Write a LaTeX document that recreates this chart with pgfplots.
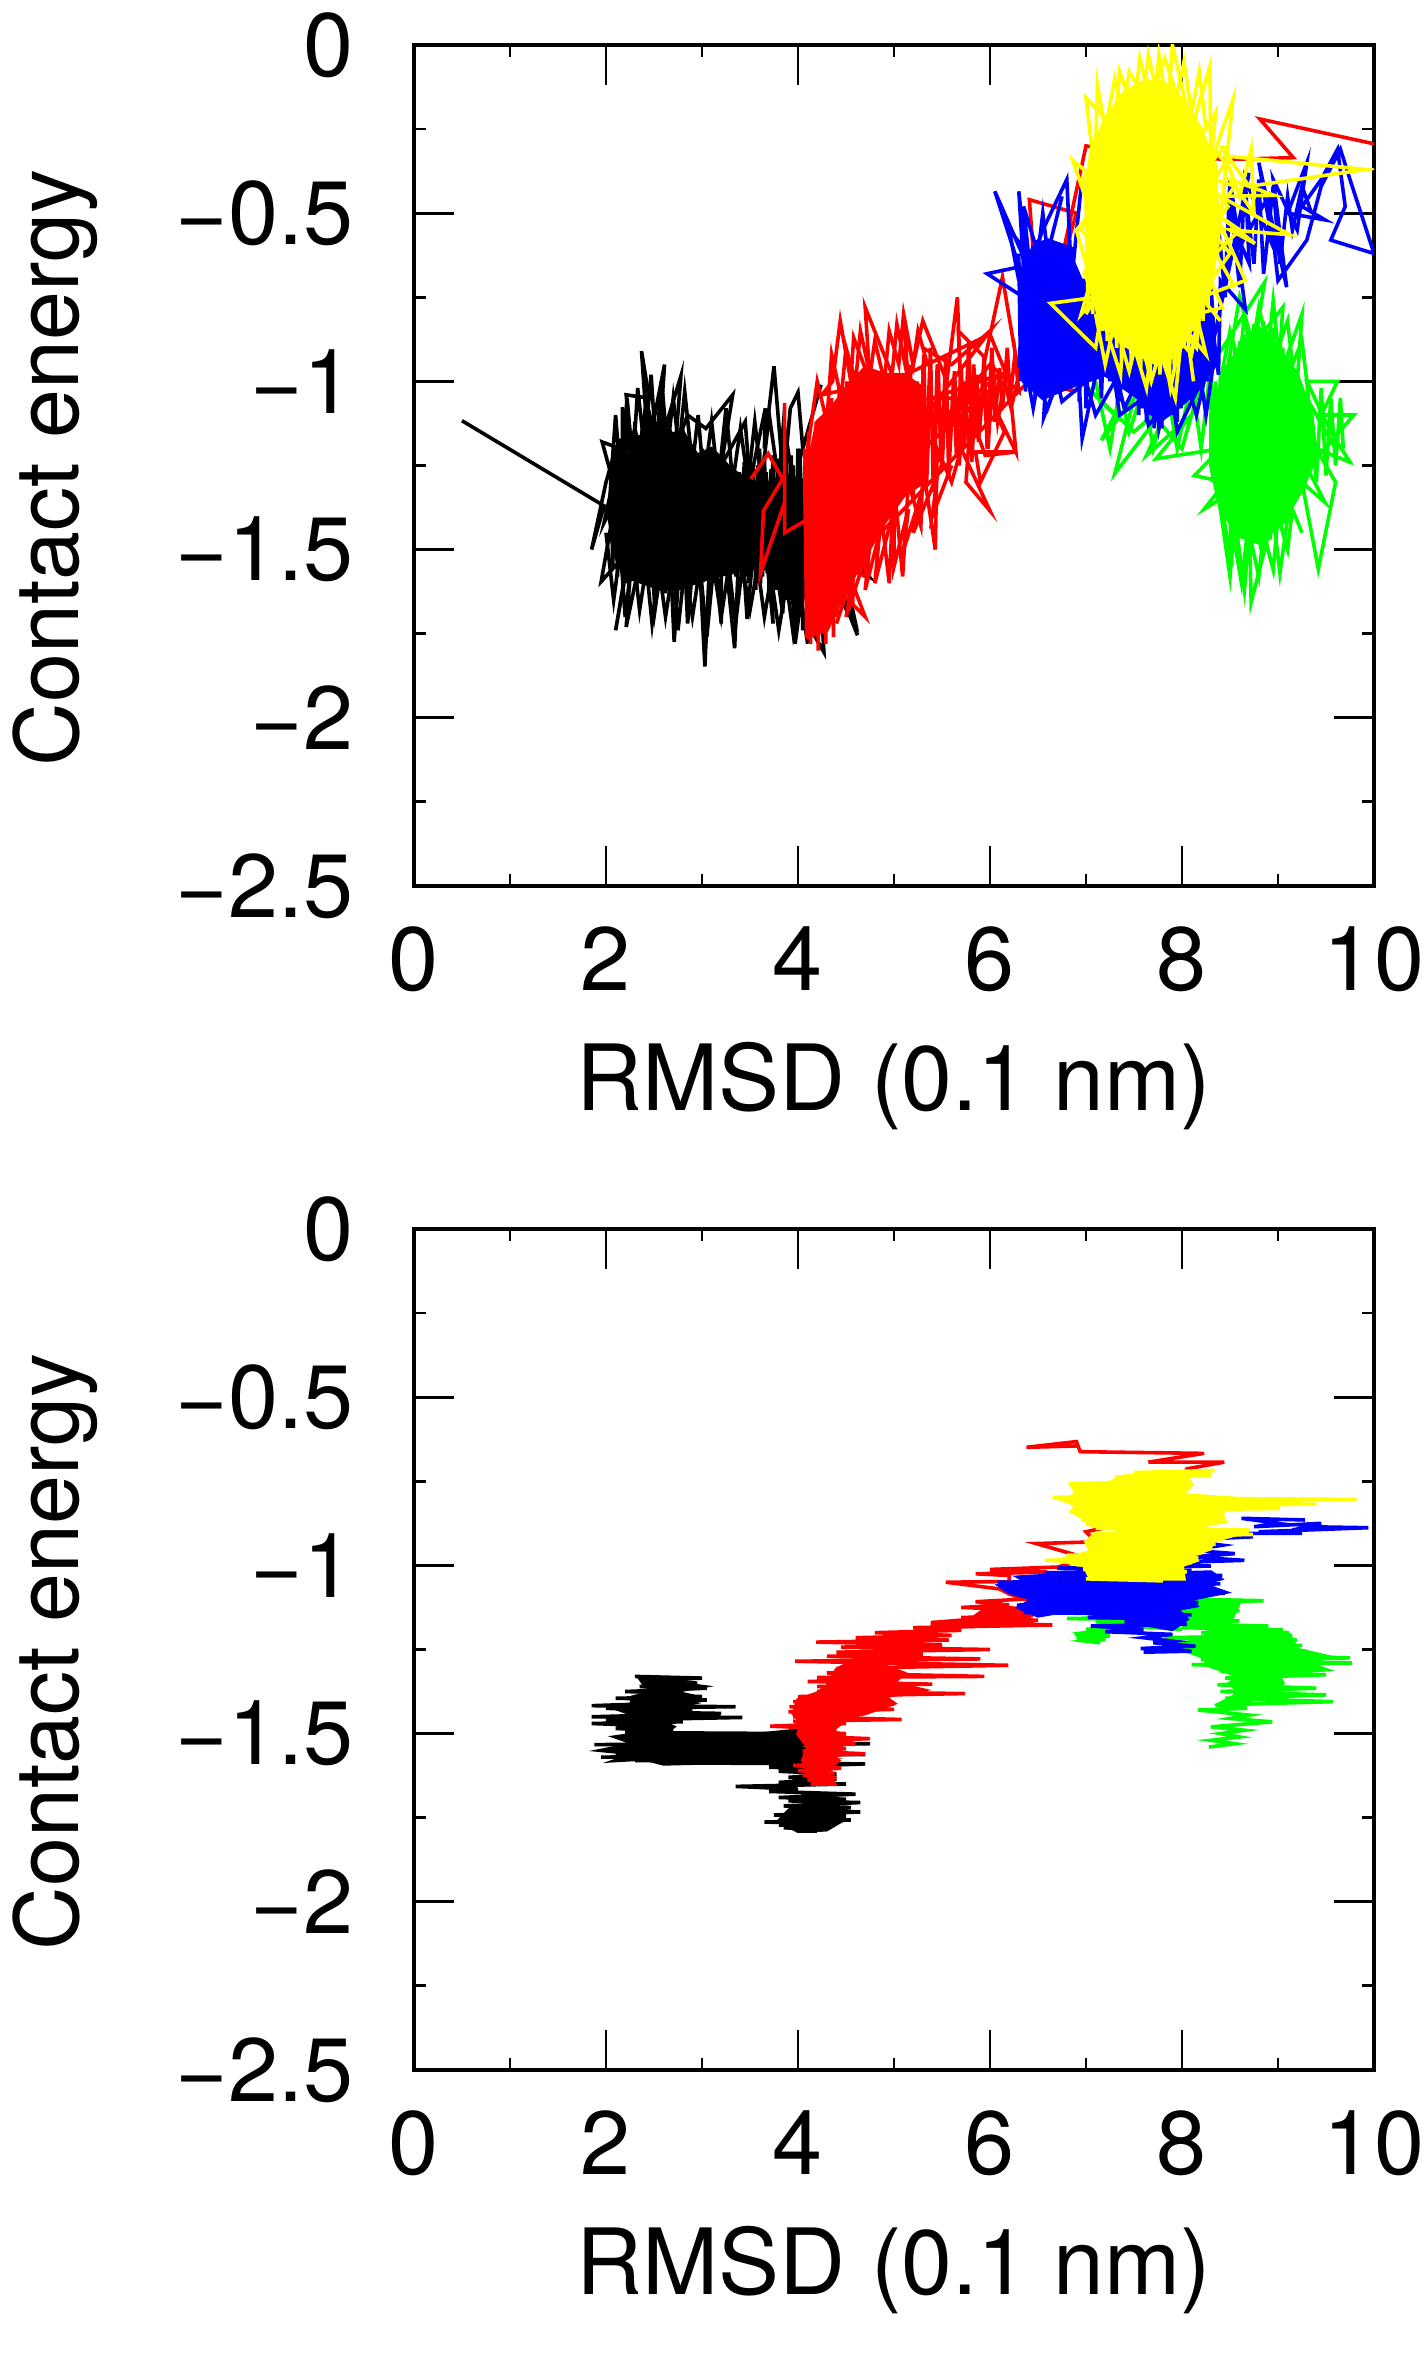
\documentclass[border=0pt]{standalone}
\usepackage{fontspec}
\setmainfont{TeX Gyre Heros}
\usepackage{pgfplots}
\pgfplotsset{compat=1.18}
\definecolor{gred}{rgb}{1,0,0}
\definecolor{ggreen}{rgb}{0,1,0}
\definecolor{gblue}{rgb}{0,0,1}
\definecolor{gyellow}{rgb}{1,1,0}
\pgfplotsset{
  rmsdpanel/.style={
    scale only axis, width=480pt, height=420.5pt,
    xmin=0, xmax=10, ymin=-2.5, ymax=0,
    xtick={0,2,4,6,8,10}, minor x tick num=1,
    ytick={-2.5,-2,-1.5,-1,-0.5,0}, minor y tick num=1,
    yticklabels={−2.5,−2,−1.5,−1,−0.5,0},
    xticklabels={0,2,4,6,8,10},
    tick align=inside, ticks=both,
    major tick length=20pt, minor tick length=6pt,
    axis line style={line width=1.6pt},
    every tick/.style={line width=1.4pt,black},
    tick label style={font=\fontsize{45}{50}\selectfont, inner sep=0pt},
    xtick pos=both, ytick pos=both,
    xticklabel pos=bottom, yticklabel pos=left,
    x tick label style={yshift=-20pt},
    y tick label style={xshift=-30pt},
    xlabel={RMSD (0.1 nm)},
    ylabel={Contact energy},
    xlabel style={font=\fontsize{45.7}{50}\selectfont, inner sep=0pt, at={(axis description cs:0.5,-0.238)},anchor=center},
    ylabel style={font=\fontsize{44}{50}\selectfont, inner sep=0pt, at={(axis description cs:-0.374,0.497)},anchor=center},
    every axis plot/.append style={line width=1.8pt, mark=none},
  },
}
\begin{document}
\begin{tikzpicture}[x=1pt,y=1pt]
\useasboundingbox (0,0) rectangle (712.5,1183);
% upper panel
\begin{axis}[rmsdpanel, at={(207pt,740pt)}, anchor=south west]
\addplot[black,fill=black] coordinates {(2.05,-1.3)(2.15,-1.2)(2.2,-1.26)(2.3,-1.14)(2.35,-1.2)(2.42,-1.06)(2.5,-1.15)(2.6,-1.1)(2.7,-1.17)(2.8,-1.15)(2.95,-1.22)(3.1,-1.2)(3.3,-1.26)(3.5,-1.3)(3.7,-1.3)(3.9,-1.28)(4.1,-1.3)(4.15,-1.66)(3.9,-1.6)(3.7,-1.56)(3.5,-1.54)(3.3,-1.57)(3.1,-1.58)(2.95,-1.6)(2.8,-1.6)(2.6,-1.62)(2.4,-1.6)(2.2,-1.58)(2.1,-1.52)(2.03,-1.4)} --cycle;
\addplot[black] coordinates {(0.5,-1.117)(1.98,-1.37)(1.85,-1.50)(2.0,-1.30)
(2.05,-1.25)(2.07,-1.55)(2.10,-1.2)(2.12,-1.58)(2.15,-1.17)(2.17,-1.56)(2.20,-1.14)(2.22,-1.6)(2.25,-1.19)(2.27,-1.57)(2.30,-1.12)(2.32,-1.62)(2.35,-1.16)(2.37,-1.59)(2.40,-1.1)(2.42,-1.58)(2.45,-1.13)(2.47,-1.61)(2.50,-1.08)(2.52,-1.6)(2.55,-1.12)(2.57,-1.58)(2.60,-1.09)(2.62,-1.63)(2.65,-1.14)(2.67,-1.6)(2.70,-1.15)(2.72,-1.57)(2.75,-1.17)(2.77,-1.62)(2.80,-1.14)(2.82,-1.58)(2.85,-1.2)(2.87,-1.6)(2.90,-1.19)(2.92,-1.56)(2.95,-1.22)(2.97,-1.59)(3.00,-1.2)(3.02,-1.57)(3.05,-1.24)(3.07,-1.55)(3.10,-1.22)(3.12,-1.58)(3.15,-1.26)(3.17,-1.54)(3.20,-1.25)(3.22,-1.56)(3.25,-1.28)(3.27,-1.53)
(3.30,-1.27)(3.33,-1.57)(3.37,-1.3)(3.40,-1.55)(3.44,-1.24)(3.47,-1.58)(3.51,-1.28)(3.54,-1.56)(3.58,-1.25)(3.61,-1.6)(3.65,-1.22)(3.68,-1.57)(3.72,-1.26)(3.75,-1.6)(3.79,-1.23)(3.82,-1.62)(3.86,-1.2)(3.89,-1.65)(3.93,-1.22)(3.96,-1.68)(4.0,-1.2)(4.03,-1.7)(4.07,-1.25)(4.1,-1.72)
(4.27,-1.805)(4.2,-1.45)(4.62,-1.755)(4.3,-1.5)(4.74,-1.58)(4.4,-1.45)(4.6,-1.72)(4.1,-1.5)(3.97,-1.78)(3.9,-1.4)(3.84,-1.69)(3.7,-1.4)(3.74,-1.72)(3.6,-1.3)(3.47,-1.706)(3.4,-1.4)(3.34,-1.793)(3.2,-1.4)(3.2,-1.72)(3.1,-1.4)(3.03,-1.848)(2.95,-1.4)(2.85,-1.72)(2.8,-1.4)(2.71,-1.774)(2.65,-1.4)(2.51,-1.68)(2.45,-1.4)(2.21,-1.73)(2.3,-1.4)(2.1,-1.74)(2.25,-1.5)(1.95,-1.595)(2.1,-1.35)(1.98,-1.42)(2.15,-1.2)(1.96,-1.18)(2.17,-1.4)(2.17,-1.077)(2.3,-1.3)(2.21,-1.04)(2.45,-1.05)(2.37,-0.91)(2.44,-1.2)(2.61,-.95)(2.55,-1.2)(2.78,-.984)(2.72,-1.2)(2.85,-1.1)(3.04,-1.14)(3.32,-1.04)(3.2,-1.25)(3.45,-1.12)(3.5,-1.3)(3.66,-1.08)(3.65,-1.2)(3.75,-.955)(3.85,-1.3)(3.92,-1.08)(4.0,-1.033)(4.05,-1.2)(4.24,-1.01)};
\addplot[black] coordinates {(3.32,-1.25)(3.35,-1.58)(3.39,-1.27)(3.42,-1.6)(3.46,-1.22)(3.49,-1.6)(3.53,-1.25)(3.56,-1.62)(3.6,-1.2)(3.63,-1.58)(3.67,-1.27)(3.7,-1.64)(3.74,-1.22)(3.77,-1.62)(3.81,-1.25)(3.84,-1.66)(3.88,-1.22)(3.91,-1.65)(3.95,-1.25)(3.98,-1.72)(4.02,-1.2)(4.05,-1.74)};
\addplot[black] coordinates {(2.05,-1.3)(2.1,-1.1)(2.15,-1.28)(2.22,-1.05)(2.28,-1.25)(2.33,-1.02)(2.4,-1.2)(2.47,-0.98)(2.52,-1.2)(2.58,-1.0)(2.64,-1.2)(2.7,-1.05)(2.76,-1.2)(2.82,-1.03)(2.9,-1.25)(2.96,-1.1)(3.02,-1.3)(3.1,-1.12)(3.17,-1.3)(3.25,-1.08)(3.32,-1.3)(3.4,-1.14)(3.48,-1.3)(3.55,-1.12)(3.62,-1.3)(3.7,-1.1)(3.8,-1.3)(3.85,-1.12)(3.95,-1.3)};
\addplot[black] coordinates {(2.0,-1.45)(2.08,-1.65)(2.15,-1.5)(2.2,-1.7)(2.28,-1.5)(2.35,-1.68)(2.42,-1.55)(2.48,-1.72)(2.55,-1.55)(2.62,-1.7)(2.7,-1.55)(2.75,-1.74)(2.82,-1.55)(2.9,-1.7)(2.98,-1.55)(3.05,-1.76)(3.12,-1.55)(3.2,-1.7)(3.28,-1.55)(3.35,-1.72)(3.42,-1.55)(3.5,-1.68)(3.58,-1.55)(3.65,-1.7)(3.72,-1.58)(3.8,-1.74)(3.88,-1.6)(3.95,-1.75)(4.02,-1.62)(4.1,-1.78)};
\addplot[gred,fill=gred] coordinates {(4.07,-1.3)(4.2,-1.12)(4.35,-1.08)(4.5,-1.02)(4.7,-0.96)(4.9,-0.98)(5.1,-0.98)(5.3,-1.02)(5.3,-1.3)(5.1,-1.34)(4.9,-1.42)(4.7,-1.52)(4.5,-1.62)(4.3,-1.74)(4.1,-1.76)} --cycle;
\addplot[gred] coordinates {(3.51,-1.29)(3.69,-1.215)(3.84,-1.29)(3.64,-1.385)(3.61,-1.57)(3.86,-1.36)(3.86,-1.064)(3.86,-1.45)(4.1,-1.41)
(4.07,-1.2)(4.09,-1.76)(4.11,-1.15)(4.13,-1.78)(4.15,-1.2)(4.17,-1.74)(4.19,-1.12)(4.21,-1.8)(4.23,-1.15)(4.25,-1.75)(4.27,-1.1)(4.29,-1.78)(4.31,-1.12)(4.33,-1.72)(4.35,-1.05)(4.37,-1.76)(4.39,-1.08)(4.41,-1.7)(4.43,-1.02)(4.45,-1.62)(4.47,-1.05)(4.49,-1.65)(4.51,-1.0)(4.53,-1.6)(4.55,-1.04)(4.57,-1.66)(4.59,-0.98)(4.61,-1.55)(4.63,-1.03)(4.65,-1.5)(4.67,-0.97)(4.69,-1.52)(4.71,-1.02)(4.73,-1.45)(4.75,-0.99)(4.77,-1.42)(4.79,-1.03)(4.81,-1.46)(4.83,-1.0)(4.85,-1.38)(4.87,-1.05)(4.89,-1.4)(4.91,-1.0)(4.93,-1.36)(4.95,-1.04)(4.97,-1.38)(4.99,-1.0)(5.01,-1.34)(5.03,-1.05)(5.05,-1.36)(5.07,-0.98)(5.09,-1.32)(5.11,-1.03)(5.13,-1.3)
(5.17,-0.95)(5.2,-1.34)(5.24,-1.0)(5.27,-1.28)(5.31,-0.92)(5.34,-1.3)(5.38,-1.0)(5.42,-1.24)(5.45,-0.95)(5.5,-1.26)(5.54,-1.02)(5.58,-1.2)(5.63,-0.97)(5.68,-1.25)(5.73,-1.0)(5.78,-1.2)(5.83,-0.95)(5.88,-1.18)(5.93,-1.0)(5.98,-1.2)(6.03,-0.95)(6.08,-1.12)(6.15,-1.0)(6.22,-1.08)(6.3,-0.98)
(6.13,-0.69)(5.95,-0.93)(5.67,-0.85)(5.7,-1.05)(5.66,-0.75)(5.55,-1.0)(5.3,-0.82)(5.2,-0.95)(5.1,-0.82)(5.15,-1.0)(5.03,-0.83)(4.98,-0.98)(4.7,-0.78)(4.75,-1.0)(4.58,-0.87)(4.55,-1.0)(4.44,-0.82)(4.36,-1.0)(4.25,-1.04)(5.05,-0.99)(6.0,-0.86)(6.2,-1.0)(6.27,-1.21)(6.0,-1.05)(6.15,-1.15)(5.9,-1.3)(5.85,-1.21)(6.27,-1.21)(5.95,-1.22)(5.8,-1.1)(5.75,-1.3)(6.0,-1.385)(5.7,-1.2)(5.6,-1.3)(5.45,-1.2)(5.43,-1.5)(5.3,-1.25)(5.28,-1.43)(5.15,-1.3)(5.09,-1.58)(5.0,-1.3)(4.95,-1.6)(4.85,-1.35)(4.88,-1.45)(4.75,-1.35)(4.7,-1.58)(4.5,-1.55)(4.7,-1.7)(4.35,-1.6)
(6.4,-1.0)(6.9,-1.03)(6.55,-1.0)(6.41,-0.46)(6.9,-0.50)(6.7,-0.7)(7.0,-0.30)(7.6,-0.33)(8.49,-0.34)(9.16,-0.335)(8.81,-0.22)(10.1,-0.30)};
\addplot[gred] coordinates {(5.3,-0.95)(5.33,-1.28)(5.38,-0.9)(5.41,-1.33)(5.46,-0.95)(5.49,-1.24)(5.54,-0.92)(5.57,-1.28)(5.62,-1.0)(5.65,-1.22)(5.7,-0.95)(5.73,-1.2)(5.78,-0.88)(5.81,-1.24)(5.86,-0.98)(5.89,-1.15)(5.94,-0.92)(5.97,-1.2)(6.02,-0.9)(6.05,-1.12)(6.1,-0.96)(6.13,-1.08)(6.18,-0.9)(6.21,-1.05)(6.26,-0.92)(6.3,-1.03)(6.0,-0.95)(5.5,-1.12)(6.1,-0.98)(5.4,-1.05)(5.9,-1.05)(5.3,-1.2)(6.05,-1.02)(5.2,-1.15)(6.0,-0.85)(5.6,-0.95)(5.3,-0.9)};
\addplot[gred] coordinates {(4.4,-1.72)(4.6,-1.55)(4.5,-1.7)(4.75,-1.48)(4.7,-1.62)(4.85,-1.45)(4.8,-1.6)(5.0,-1.38)(5.0,-1.55)(5.15,-1.38)(5.1,-1.5)(5.3,-1.32)(5.2,-1.45)(5.45,-1.28)(5.4,-1.4)(5.6,-1.25)};
\addplot[gred] coordinates {(4.1,-1.2)(4.2,-1.0)(4.3,-1.12)(4.35,-0.92)(4.45,-1.05)(4.5,-0.9)(4.6,-1.0)(4.65,-0.85)(4.75,-0.98)(4.8,-0.88)(4.9,-1.0)(4.95,-0.85)(5.05,-0.95)(5.1,-0.8)(5.2,-0.95)(5.25,-0.85)(5.35,-0.95)};
\addplot[ggreen,fill=ggreen] coordinates {(8.3,-1.1)(8.45,-0.97)(8.6,-0.9)(8.8,-0.84)(9.0,-0.9)(9.2,-0.98)(9.35,-1.1)(9.4,-1.22)(9.25,-1.32)(9.05,-1.42)(8.8,-1.48)(8.6,-1.46)(8.4,-1.38)(8.3,-1.25)} --cycle;
\addplot[ggreen] coordinates {(8.3,-1.05)(8.32,-1.3)(8.35,-1.0)(8.37,-1.33)(8.40,-0.98)(8.42,-1.38)(8.45,-0.95)(8.47,-1.4)(8.50,-0.92)(8.52,-1.42)(8.55,-0.9)(8.57,-1.44)(8.60,-0.88)(8.62,-1.46)(8.65,-0.86)(8.67,-1.47)(8.70,-0.85)(8.72,-1.5)(8.75,-0.83)(8.77,-1.48)(8.80,-0.85)(8.82,-1.5)(8.85,-0.82)(8.87,-1.46)(8.90,-0.85)(8.92,-1.47)(8.95,-0.84)(8.97,-1.44)(9.00,-0.88)(9.02,-1.42)(9.05,-0.9)(9.07,-1.4)(9.10,-0.92)(9.12,-1.36)(9.15,-0.94)(9.17,-1.33)(9.20,-0.98)(9.22,-1.3)(9.25,-1.02)(9.27,-1.28)(9.30,-1.05)(9.32,-1.26)(9.35,-1.1)(9.37,-1.24)
(9.79,-1.10)(9.45,-1.1)(9.62,-1.0)(9.3,-1.0)(9.55,-1.15)(9.75,-1.24)(9.4,-1.2)(9.6,-1.3)(9.42,-1.558)(9.25,-1.3)(9.49,-1.36)(9.2,-1.2)(9.02,-1.57)(8.95,-1.4)(8.72,-1.657)(8.7,-1.4)(8.62,-1.6)(8.5,-1.4)(8.52,-1.55)(8.4,-1.35)(8.23,-1.38)(8.45,-1.3)(8.13,-1.28)(8.4,-1.2)(7.73,-1.23)(8.1,-1.1)(7.63,-1.22)(7.9,-1.05)(7.3,-1.274)(7.5,-1.05)(7.16,-1.175)(7.3,-1.1)(7.0,-1.015)(7.5,-1.15)(7.7,-1.1)(8.0,-1.2)(8.2,-1.0)(8.86,-0.706)(8.75,-0.9)(8.6,-0.75)(8.45,-1.0)(9.05,-0.78)(9.0,-1.0)(9.25,-0.8)(9.2,-1.0)(9.6,-1.2)};
\addplot[ggreen] coordinates {(7.1,-1.0)(7.25,-1.2)(7.35,-1.02)(7.45,-1.15)(7.6,-1.02)(7.7,-1.2)(7.85,-1.03)(7.95,-1.2)(8.1,-1.0)(8.2,-1.2)(8.3,-0.95)(8.35,-1.3)};
\addplot[ggreen] coordinates {(9.3,-1.0)(9.4,-1.3)(9.45,-1.02)(9.5,-1.28)(9.55,-1.05)(9.6,-1.25)(9.65,-1.05)(9.68,-1.2)};
\addplot[ggreen] coordinates {(8.4,-1.38)(8.5,-1.58)(8.55,-1.4)(8.65,-1.62)(8.7,-1.45)(8.8,-1.58)(8.85,-1.45)(8.95,-1.56)(9.0,-1.4)(9.1,-1.5)(9.15,-1.38)(9.25,-1.45)};
\addplot[ggreen] coordinates {(8.4,-1.0)(8.5,-0.85)(8.6,-0.95)(8.65,-0.8)(8.72,-0.92)(8.8,-0.78)(8.9,-0.9)(8.95,-0.76)(9.0,-0.9)(9.1,-0.82)(9.15,-0.95)(9.25,-0.88)(9.3,-1.0)};
\addplot[gblue,fill=gblue] coordinates {(6.32,-0.7)(6.45,-0.6)(6.6,-0.58)(6.8,-0.6)(6.95,-0.7)(7.0,-1.0)(6.8,-1.02)(6.55,-1.05)(6.35,-1.0)} --cycle;
\addplot[gblue,fill=gblue] coordinates {(6.95,-0.7)(8.3,-0.7)(8.35,-0.95)(8.15,-1.03)(7.95,-1.08)(7.76,-1.12)(7.55,-1.05)(7.2,-0.98)(7.0,-1.0)} --cycle;
\addplot[gblue] coordinates {(6.3,-0.62)(6.32,-1.0)(6.35,-0.6)(6.37,-1.03)(6.40,-0.62)(6.42,-1.0)(6.45,-0.65)(6.47,-1.05)(6.50,-0.58)(6.52,-1.02)(6.55,-0.62)(6.57,-1.04)(6.60,-0.6)(6.62,-1.0)(6.65,-0.63)(6.67,-1.03)(6.70,-0.6)(6.72,-1.02)(6.75,-0.6)(6.77,-1.0)(6.80,-0.65)(6.82,-1.02)(6.85,-0.6)(6.87,-1.0)(6.90,-0.7)(6.93,-1.06)(6.98,-0.7)(7.0,-1.08)(7.05,-0.72)(7.08,-1.0)(7.12,-0.7)(7.16,-1.05)(7.2,-0.75)(7.25,-1.0)(7.3,-0.75)(7.35,-1.06)(7.42,-0.8)(7.47,-1.03)(7.52,-0.8)(7.55,-1.1)(7.57,-0.7)(7.59,-1.08)(7.61,-0.7)(7.63,-1.12)(7.65,-0.7)(7.67,-1.1)(7.69,-0.7)(7.71,-1.14)(7.73,-0.7)(7.75,-1.12)(7.77,-0.7)(7.79,-1.14)(7.81,-0.7)(7.83,-1.1)(7.85,-0.7)(7.87,-1.08)(7.89,-0.7)(7.91,-1.1)(7.93,-0.7)(7.95,-1.12)(7.97,-0.7)(7.99,-1.08)(8.01,-0.7)(8.03,-1.06)(8.05,-0.75)(8.07,-1.04)(8.09,-0.7)(8.12,-1.02)(8.15,-0.7)(8.18,-1.0)(8.22,-0.65)(8.26,-1.0)(8.3,-0.8)(8.38,-0.98)(8.4,-0.7)
(8.66,-.786)(8.55,-0.55)(8.7,-0.65)(8.66,-.4)(8.95,-0.6)(8.8,-0.35)(9.09,-.72)(8.95,-0.4)(9.2,-0.55)(9.3,-.35)(9.1,-0.5)(9.49,-.52)(9.25,-0.48)(9.45,-0.4)(9.62,-.31)(9.7,-0.48)(9.55,-0.58)(10.0,-.62)(9.75,-.4)(9.65,-.31)(9.45,-.42)(9.3,-.58)(9.0,-0.7)(8.9,-0.45)(8.6,-0.6)(8.5,-0.4)(8.45,-0.72)(8.7,-0.38)(8.35,-0.85)
(8.15,-1.1)(7.95,-0.9)(7.76,-1.14)(7.7,-0.9)(7.4,-1.08)(7.2,-0.85)(6.96,-1.17)(6.9,-0.85)(6.56,-1.107)(6.6,-0.9)(6.3,-0.95)(6.35,-0.75)(5.97,-0.68)(6.3,-0.66)(6.38,-0.8)(6.3,-0.435)(6.38,-0.65)(6.05,-0.435)(6.35,-0.7)(6.55,-0.55)(6.8,-0.4)(6.85,-0.7)(6.95,-0.42)};
\addplot[gblue] coordinates {(8.35,-0.45)(8.45,-0.75)(8.5,-0.45)(8.6,-0.72)(8.65,-0.42)(8.75,-0.65)(8.8,-0.4)(8.85,-0.68)(8.95,-0.42)(9.02,-0.65)(9.1,-0.45)(9.15,-0.55)(9.25,-0.42)(9.35,-0.5)};
\addplot[gblue] coordinates {(6.3,-0.7)(6.2,-0.55)(6.4,-0.62)(6.35,-0.48)(6.5,-0.62)(6.55,-0.5)(6.6,-0.62)(6.75,-0.45)};
\addplot[gblue] coordinates {(6.4,-1.0)(6.45,-1.08)(6.5,-1.0)(6.6,-1.08)(6.7,-1.0)(6.75,-1.06)(7.0,-1.0)(7.1,-1.1)(7.3,-1.0)(7.35,-1.1)(7.6,-1.05)(7.65,-1.13)(7.9,-1.05)(7.95,-1.15)(8.2,-1.0)(8.25,-1.1)(8.35,-0.9)};
\addplot[gyellow,fill=gyellow] coordinates {(7.0,-0.45)(7.05,-0.32)(7.2,-0.22)(7.4,-0.14)(7.6,-0.11)(7.8,-0.11)(8.0,-0.16)(8.2,-0.25)(8.33,-0.35)(8.38,-0.55)(8.3,-0.72)(8.15,-0.82)(7.95,-0.92)(7.75,-0.95)(7.55,-0.92)(7.35,-0.88)(7.15,-0.82)(7.02,-0.7)} --cycle;
\addplot[gyellow] coordinates {(7.0,-0.4)(7.02,-0.78)(7.05,-0.35)(7.07,-0.8)(7.10,-0.3)(7.12,-0.83)(7.15,-0.25)(7.17,-0.85)(7.20,-0.22)(7.22,-0.88)(7.25,-0.2)(7.27,-0.86)(7.30,-0.18)(7.32,-0.9)(7.35,-0.16)(7.37,-0.93)(7.40,-0.15)(7.42,-0.9)(7.45,-0.13)(7.47,-0.95)(7.50,-0.14)(7.52,-0.92)(7.55,-0.12)(7.57,-0.96)(7.60,-0.12)(7.62,-0.94)(7.65,-0.1)(7.67,-0.98)(7.70,-0.12)(7.72,-0.95)(7.75,-0.11)(7.77,-0.98)(7.80,-0.1)(7.82,-0.96)(7.85,-0.12)(7.87,-1.0)(7.90,-0.13)(7.92,-0.96)(7.95,-0.14)(7.97,-0.93)(8.00,-0.18)(8.02,-0.9)(8.05,-0.2)(8.07,-0.88)(8.10,-0.22)(8.12,-0.85)(8.15,-0.25)(8.17,-0.8)(8.20,-0.26)(8.22,-0.82)(8.25,-0.3)(8.27,-0.78)(8.30,-0.33)(8.32,-0.7)(8.35,-0.35)(8.37,-0.6)
(8.53,-.163)(8.3,-0.35)(8.29,-.064)(8.1,-0.25)(7.9,0)(7.85,-0.2)(7.76,-0.03)(7.7,-0.2)(7.56,-.04)(7.5,-0.2)(7.35,-0.08)(7.3,-0.25)(7.0,-.157)(7.1,-0.4)(6.86,-.342)(7.05,-0.5)(6.9,-0.55)(7.05,-0.7)(6.95,-0.8)(7.1,-0.75)(6.63,-.768)(7.1,-0.9)(7.16,-0.8)(7.36,-.98)(7.4,-0.8)(7.63,-1.02)(7.7,-0.85)(7.93,-1.05)(8.0,-0.85)(8.15,-0.9)(8.2,-0.75)(8.66,-.70)(8.35,-0.5)(8.76,-.59)(8.5,-0.55)(9.12,-.564)(8.4,-0.45)(8.96,-.447)(8.5,-0.4)(8.75,-0.5)(8.72,-.31)(8.6,-0.45)(8.45,-0.33)(9.92,-.37)(8.7,-0.42)(8.4,-0.3)};
\addplot[gyellow] coordinates {(7.1,-0.3)(7.12,-0.12)(7.2,-0.25)(7.3,-0.1)(7.38,-0.2)(7.45,-0.08)(7.6,-0.15)(7.65,-0.03)(7.72,-0.12)(7.82,-0.04)(7.95,-0.15)(8.02,-0.05)(8.1,-0.2)(8.18,-0.08)(8.25,-0.25)(8.35,-0.2)(8.3,-0.35)(8.45,-0.3)};
\addplot[gyellow] coordinates {(7.1,-0.8)(7.2,-0.95)(7.3,-0.82)(7.45,-0.97)(7.55,-0.85)(7.68,-1.0)(7.8,-0.88)(7.88,-1.02)(7.98,-0.88)(8.1,-0.92)(8.2,-0.75)(8.4,-0.82)};
\addplot[gyellow] coordinates {(8.35,-0.4)(8.55,-0.42)(8.35,-0.5)(8.6,-0.55)(8.35,-0.62)(8.55,-0.72)};
\addplot[gyellow] coordinates {(7.1,-0.35)(6.95,-0.4)(7.1,-0.45)(6.95,-0.55)(7.1,-0.6)(6.98,-0.68)(7.1,-0.75)(7.0,-0.8)};
\addplot[gyellow] coordinates {(8.3,-0.3)(8.45,-0.35)(8.3,-0.42)(8.48,-0.48)(8.3,-0.55)(8.5,-0.62)(8.3,-0.7)(8.42,-0.78)(8.15,-0.8)(8.25,-0.92)(8.05,-0.85)(8.12,-1.0)};
\end{axis}
% lower panel
\begin{axis}[rmsdpanel, at={(207pt,148pt)}, anchor=south west]
\addplot[black,fill=black] coordinates {(2.35,-1.335)(2.9,-1.335)(2.6,-1.345)(3.0,-1.36)(2.7,-1.375)(2.85,-1.385)(2.65,-1.4)(2.9,-1.41)(2.6,-1.43)(2.8,-1.44)(2.55,-1.46)(2.7,-1.48)(2.6,-1.5)(3.0,-1.52)(4.0,-1.49)(4.05,-1.58)(2.6,-1.59)(2.4,-1.575)(2.1,-1.58)(2.3,-1.56)(1.95,-1.55)(2.3,-1.53)(2.1,-1.51)(2.35,-1.5)(2.2,-1.47)(2.35,-1.45)(2.15,-1.43)(2.4,-1.41)(2.3,-1.39)(2.5,-1.375)(2.4,-1.355)} --cycle;
\addplot[black,fill=black] coordinates {(3.9,-1.73)(4.5,-1.72)(4.45,-1.76)(4.3,-1.785)(4.0,-1.79)(3.8,-1.76)} --cycle;
\addplot[black] coordinates {(2.3,-1.33)(3.0,-1.335)(2.4,-1.342)(2.95,-1.35)(2.35,-1.36)(3.05,-1.365)(2.2,-1.375)(2.8,-1.38)(2.5,-1.385)(3.0,-1.39)(2.1,-1.395)(3.05,-1.40)(2.25,-1.407)(2.6,-1.41)(1.85,-1.417)(3.35,-1.42)(2.0,-1.425)(2.9,-1.43)(2.2,-1.435)(3.2,-1.44)(1.85,-1.45)(3.42,-1.452)(2.0,-1.46)(2.8,-1.465)(1.85,-1.47)(2.6,-1.478)(2.1,-1.485)(2.7,-1.49)(2.2,-1.497)(4.0,-1.5)(2.5,-1.507)(4.0,-1.512)(2.2,-1.52)(4.05,-1.525)(1.88,-1.533)(4.75,-1.53)(2.1,-1.54)(4.1,-1.545)(2.0,-1.55)(4.1,-1.553)(2.1,-1.56)(4.7,-1.562)(1.95,-1.57)(4.1,-1.57)(2.3,-1.58)(4.0,-1.58)(2.6,-1.587)(4.7,-1.59)(3.7,-1.6)(4.35,-1.605)(3.8,-1.612)(4.4,-1.62)(3.9,-1.63)(4.4,-1.635)(3.8,-1.645)(4.5,-1.65)(3.35,-1.657)(4.0,-1.665)(3.7,-1.672)(4.6,-1.68)(3.8,-1.69)(4.5,-1.695)(3.9,-1.70)(4.65,-1.705)(3.85,-1.715)(4.55,-1.72)(3.9,-1.727)(4.65,-1.733)(3.75,-1.742)(4.5,-1.745)(3.85,-1.75)(4.55,-1.757)(3.65,-1.763)(4.4,-1.767)(3.8,-1.772)(4.3,-1.775)(3.85,-1.78)(4.3,-1.785)(4.0,-1.79)(4.2,-1.79)};
\addplot[gred,fill=gred] coordinates {(4.15,-1.65)(4.38,-1.65)(4.3,-1.61)(4.42,-1.58)(4.3,-1.55)(4.55,-1.52)(4.35,-1.49)(4.55,-1.45)(4.7,-1.44)(5.0,-1.41)(4.9,-1.39)(5.3,-1.37)(5.0,-1.35)(5.1,-1.32)(4.9,-1.3)(4.95,-1.27)(4.6,-1.28)(4.4,-1.31)(4.3,-1.36)(4.2,-1.38)(4.0,-1.4)(3.95,-1.44)(4.05,-1.47)(4.0,-1.5)(4.1,-1.54)(4.05,-1.58)(4.15,-1.61)} --cycle;
\addplot[gred,fill=gred] coordinates {(5.4,-1.185)(6.45,-1.175)(6.35,-1.13)(6.0,-1.12)(5.8,-1.16)(5.4,-1.17)} --cycle;
\addplot[gred] coordinates {(4.15,-1.65)(4.35,-1.645)(4.1,-1.638)(4.4,-1.632)(4.05,-1.625)(4.38,-1.618)(4.0,-1.61)(4.45,-1.603)(3.95,-1.595)(4.35,-1.588)(4.05,-1.58)(4.3,-1.573)(4.1,-1.566)(4.7,-1.56)(4.05,-1.552)(4.5,-1.545)(4.15,-1.538)(4.6,-1.53)(4.05,-1.522)(4.75,-1.515)(4.0,-1.507)(4.5,-1.5)(4.0,-1.493)(4.4,-1.486)(3.71,-1.478)(4.5,-1.47)(3.95,-1.463)(5.08,-1.458)(3.95,-1.45)(4.45,-1.443)(3.9,-1.435)(5.0,-1.428)(3.91,-1.42)(5.0,-1.413)(3.95,-1.405)(4.8,-1.398)(4.0,-1.39)(5.74,-1.381)(4.2,-1.375)(5.2,-1.368)(4.2,-1.36)(5.4,-1.353)(4.1,-1.345)(5.0,-1.34)(4.2,-1.333)(5.94,-1.33)(4.3,-1.32)(5.0,-1.313)(4.4,-1.306)(6.19,-1.297)(3.97,-1.285)(5.9,-1.278)(4.3,-1.27)(5.3,-1.265)(4.4,-1.258)(6.0,-1.25)(4.45,-1.243)(5.5,-1.236)(4.19,-1.228)(5.57,-1.222)(4.6,-1.215)(5.6,-1.208)(4.8,-1.2)(5.7,-1.193)(5.2,-1.185)(6.65,-1.177)(5.39,-1.17)(6.5,-1.163)(5.7,-1.155)(6.45,-1.148)(5.9,-1.14)(6.4,-1.133)(5.7,-1.125)(6.2,-1.118)(5.85,-1.108)(6.37,-1.1)(6.2,-1.085)(6.1,-1.07)(5.54,-1.05)(6.2,-1.048)(6.2,-1.03)(5.85,-1.025)(6.6,-1.02)(6.0,-1.012)(6.7,-1.005)(7.03,-0.98)(6.48,-0.935)(7.1,-0.93)(7.0,-0.9)(8.0,-0.84)(7.9,-0.8)(8.05,-0.713)(8.44,-.693)(7.65,-.693)(8.23,-.667)(6.94,-.662)(6.9,-.632)(6.38,-.649)(6.9,-.645)};
\addplot[ggreen,fill=ggreen] coordinates {(8.1,-1.22)(8.4,-1.2)(8.3,-1.19)(8.7,-1.19)(9.1,-1.2)(9.2,-1.25)(9.5,-1.27)(9.3,-1.29)(9.5,-1.31)(9.0,-1.32)(9.05,-1.35)(8.8,-1.37)(8.85,-1.39)(8.6,-1.41)(8.4,-1.41)(8.6,-1.38)(8.5,-1.35)(8.6,-1.33)(8.3,-1.3)(8.2,-1.27)(8.0,-1.25)} --cycle;
\addplot[ggreen,fill=ggreen] coordinates {(7.9,-1.105)(8.6,-1.105)(8.5,-1.17)(8.0,-1.17)} --cycle;
\addplot[ggreen] coordinates {(8.28,-1.54)(8.55,-1.53)(8.3,-1.52)(8.6,-1.51)(8.4,-1.5)(8.65,-1.49)(8.3,-1.48)(8.94,-1.465)(8.5,-1.455)(8.7,-1.445)(8.17,-1.43)(8.68,-1.425)(8.35,-1.415)(9.57,-1.405)(8.45,-1.395)(9.5,-1.385)(8.4,-1.375)(9.4,-1.365)(8.37,-1.355)(9.02,-1.345)(8.45,-1.335)(9.5,-1.325)(8.4,-1.315)(9.4,-1.305)(8.1,-1.295)(9.77,-1.29)(8.2,-1.28)(9.75,-1.275)(8.4,-1.265)(9.3,-1.255)(8.0,-1.245)(9.25,-1.238)(7.9,-1.23)(9.2,-1.222)(7.82,-1.215)(9.15,-1.208)(8.2,-1.2)(9.05,-1.192)(8.0,-1.185)(8.9,-1.18)(7.4,-1.172)(8.6,-1.165)(6.8,-1.158)(8.5,-1.15)(7.88,-1.14)(8.6,-1.135)(8.2,-1.128)(8.6,-1.12)(7.88,-1.112)(8.85,-1.105)(8.0,-1.1)};
\addplot[ggreen] coordinates {(6.88,-1.205)(7.25,-1.2)(7.0,-1.19)(7.5,-1.185)(7.0,-1.2)(7.25,-1.21)(6.9,-1.215)(7.2,-1.22)(7.0,-1.225)(7.15,-1.23)};
\addplot[ggreen] coordinates {(7.0,-1.155)(8.0,-1.16)(7.1,-1.168)(7.9,-1.175)(7.4,-1.18)(8.0,-1.19)};
\addplot[gblue,fill=gblue] coordinates {(6.1,-1.06)(6.4,-1.05)(6.3,-1.035)(6.6,-1.03)(6.9,-1.03)(8.3,-1.02)(8.4,-1.04)(8.2,-1.055)(8.45,-1.08)(8.1,-1.1)(8.15,-1.12)(7.95,-1.13)(8.05,-1.16)(7.9,-1.19)(7.6,-1.175)(7.5,-1.14)(7.1,-1.145)(6.9,-1.13)(6.5,-1.15)(6.3,-1.125)(6.45,-1.1)(6.2,-1.08)} --cycle;
\addplot[gblue] coordinates {(7.6,-1.258)(8.1,-1.255)(7.57,-1.247)(8.14,-1.24)(7.7,-1.23)(7.9,-1.225)(7.6,-1.215)(7.9,-1.205)(7.2,-1.197)(7.6,-1.19)(7.05,-1.18)(8.05,-1.175)(7.4,-1.167)(8.0,-1.16)(7.02,-1.155)(8.1,-1.147)(6.35,-1.14)(7.2,-1.135)(6.4,-1.128)(7.05,-1.125)(6.28,-1.118)(8.17,-1.11)(6.4,-1.103)(8.1,-1.097)(6.3,-1.09)(8.45,-1.083)(6.2,-1.076)(8.2,-1.07)(6.1,-1.062)(8.4,-1.055)(6.08,-1.05)(8.3,-1.043)(6.3,-1.036)(8.42,-1.03)(6.57,-1.022)(8.1,-1.015)(6.7,-1.008)(8.3,-1.002)(7.5,-0.995)(8.65,-0.985)(8.1,-0.975)(8.55,-0.965)(8.1,-0.955)(8.42,-0.94)(8.0,-0.925)(8.74,-0.915)(8.45,-0.905)(9.25,-0.905)(8.8,-0.9)(9.94,-0.888)(9.3,-0.885)(9.45,-0.875)(8.75,-0.885)(9.0,-0.875)(8.62,-0.86)(9.28,-0.865)};
\addplot[gyellow,fill=gyellow] coordinates {(7.4,-0.735)(8.3,-0.72)(7.9,-0.75)(8.1,-0.76)(8.0,-0.79)(8.5,-0.80)(9.0,-0.81)(8.5,-0.82)(8.4,-0.85)(8.45,-0.87)(8.2,-0.88)(8.3,-0.895)(8.0,-0.885)(7.5,-0.885)(7.2,-0.89)(7.05,-0.88)(6.95,-0.855)(6.85,-0.84)(6.9,-0.82)(6.75,-0.805)(6.9,-0.79)(6.85,-0.76)(7.2,-0.76)} --cycle;
\addplot[gyellow,fill=gyellow] coordinates {(7.1,-0.905)(8.6,-0.905)(8.3,-0.93)(8.3,-0.95)(8.1,-0.97)(8.15,-0.985)(8.0,-1.0)(8.02,-1.04)(7.05,-1.04)(6.98,-1.0)(6.7,-0.985)(7.05,-0.96)(7.0,-0.93)} --cycle;
\addplot[gyellow] coordinates {(7.3,-0.738)(8.34,-0.718)(7.5,-0.724)(8.3,-0.732)(7.3,-0.745)(8.1,-0.75)(6.82,-0.757)(8.0,-0.764)(6.85,-0.77)(8.05,-0.777)(6.9,-0.784)(8.0,-0.79)(6.65,-0.798)(9.82,-0.804)(6.8,-0.812)(9.4,-0.818)(6.9,-0.825)(9.02,-0.831)(6.85,-0.838)(8.4,-0.845)(6.9,-0.852)(8.45,-0.858)(6.95,-0.865)(8.4,-0.87)(7.0,-0.877)(8.0,-0.882)(7.1,-0.89)(8.7,-0.895)(7.3,-0.902)(8.74,-0.908)(7.6,-0.915)(8.4,-0.922)(7.02,-0.93)(8.35,-0.937)(7.05,-0.944)(8.3,-0.95)(7.1,-0.957)(8.2,-0.964)(6.8,-0.97)(8.17,-0.977)(6.57,-0.985)(8.1,-0.992)(6.9,-0.998)(8.0,-1.005)(6.97,-1.012)(8.05,-1.019)(7.1,-1.026)(8.0,-1.033)(7.0,-1.04)(7.8,-1.046)};
\end{axis}
\end{tikzpicture}
\end{document}
